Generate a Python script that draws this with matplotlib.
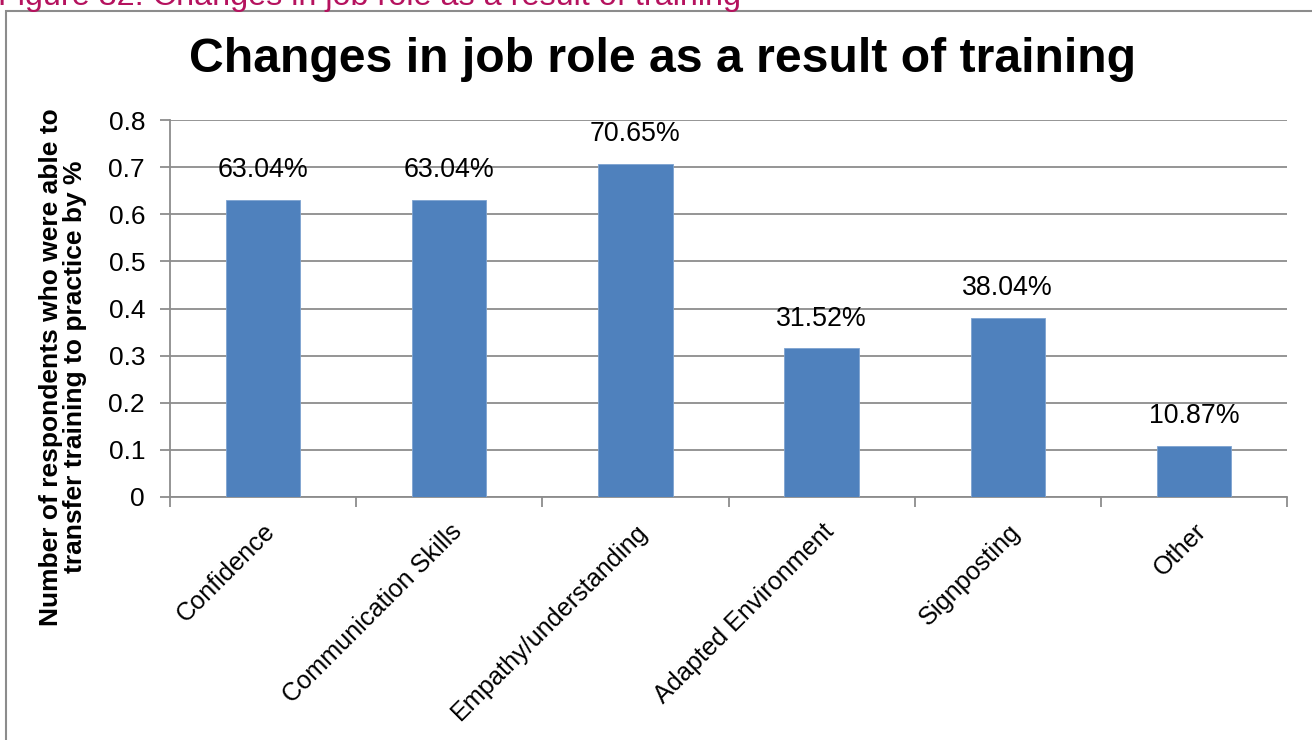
import matplotlib
matplotlib.use("Agg")
import matplotlib.pyplot as plt
from matplotlib.patches import Rectangle

plt.rcParams['font.family'] = ['Liberation Sans', 'DejaVu Sans']

categories = ["Confidence", "Communication Skills", "Empathy/understanding",
              "Adapted Environment", "Signposting", "Other"]
values = [0.6304, 0.6304, 0.7065, 0.3152, 0.3804, 0.1087]
yticks = [0, 0.1, 0.2, 0.3, 0.4, 0.5, 0.6, 0.7, 0.8]
ytick_labels = ["0", "0.1", "0.2", "0.3", "0.4", "0.5", "0.6", "0.7", "0.8"]

W, H = 1312, 740
fig = plt.figure(figsize=(W / 100, H / 100), dpi=100)

# outer chart frame
fig.patches.append(Rectangle((6 / W, -0.1), 1.2, 1 - 11 / H + 0.1,
                             transform=fig.transFigure, fill=False,
                             edgecolor="#8c8c8c", linewidth=1.5))

# figure caption above the frame
fig.text(-2 / W, 1 - 5 / H, "Figure 32: Changes in job role as a result of training",
         color="#B5125E", fontsize=23.3, ha="left", va="baseline")

ax = fig.add_axes([170 / W, 1 - 497 / H, (1287 - 170) / W, (497 - 120) / H])

x = list(range(len(categories)))
bars = ax.bar(x, values, width=0.4, color="#4F81BD", edgecolor="#7ea3d0",
              linewidth=0.6, zorder=3)

for xi, v in zip(x, values):
    ax.annotate(f"{v * 100:.2f}%", (xi, v), xytext=(0, 12),
                textcoords="offset points", ha="center", va="bottom",
                fontsize=19.3, color="#000000")

ax.set_xlim(-0.5, len(categories) - 0.5)
ax.set_ylim(0, 0.8)
ax.set_yticks(yticks)
ax.set_yticklabels(ytick_labels, fontsize=19)
ax.yaxis.grid(True, color="#8c8c8c", linewidth=1.3, zorder=0)
ax.set_axisbelow(True)

# category boundaries carry the x tick marks
ax.set_xticks([i - 0.5 for i in range(len(categories) + 1)])
ax.set_xticklabels([])
ax.set_xticks(x, minor=True)
ax.set_xticklabels(categories, minor=True, rotation=45, ha="right",
                   rotation_mode="anchor", fontsize=18.2)
ax.tick_params(axis="x", which="major", length=7, width=1.3, color="#8c8c8c",
               direction="out")
ax.tick_params(axis="x", which="minor", length=0, pad=16)
ax.tick_params(axis="y", length=7, width=1.3, color="#8c8c8c", pad=11)

for side in ("top", "right"):
    ax.spines[side].set_visible(False)
for side in ("left", "bottom"):
    ax.spines[side].set_color("#8c8c8c")
    ax.spines[side].set_linewidth(1.3)

fig.text(63 / W, 1 - 367 / H,
         "Number of respondents who were able to\ntransfer training to practice by %",
         fontsize=19, fontweight="bold", rotation=90, ha="center", va="center",
         linespacing=1.05, multialignment="center")

fig.text((190 + 1135) / 2 / W, 1 - 60 / H, "Changes in job role as a result of training",
         fontsize=34.7, fontweight="bold", ha="center", va="center")

fig.savefig("out.png", dpi=100)
